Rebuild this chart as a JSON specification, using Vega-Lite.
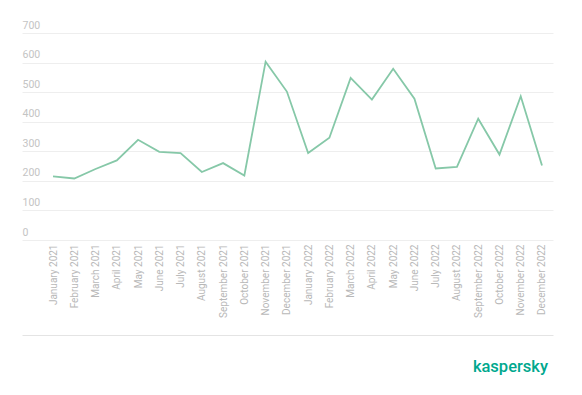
{
  "$schema": "https://vega.github.io/schema/vega-lite/v6.json",
  "width": 531,
  "height": 207,
  "autosize": {"type": "none"},
  "padding": {"left": 22, "top": 33, "right": 29, "bottom": 155},
  "background": "white",
  "config": {
    "view": {"stroke": null},
    "font": "Roboto",
    "title": {"font": "Roboto"}
  },
  "title": {
    "text": "kaspersky",
    "orient": "bottom",
    "anchor": "end",
    "color": "#00A88E",
    "fontSize": 16.5,
    "fontWeight": 500,
    "offset": 24,
    "dx": -5
  },
  "data": {
    "values": [
      {"month": "January 2021", "value": 215},
      {"month": "February 2021", "value": 208},
      {"month": "March 2021", "value": 240},
      {"month": "April 2021", "value": 269},
      {"month": "May 2021", "value": 339},
      {"month": "June 2021", "value": 298},
      {"month": "July 2021", "value": 294},
      {"month": "August 2021", "value": 230},
      {"month": "September 2021", "value": 260},
      {"month": "October 2021", "value": 218},
      {"month": "November 2021", "value": 603},
      {"month": "December 2021", "value": 502},
      {"month": "January 2022", "value": 294},
      {"month": "February 2022", "value": 346},
      {"month": "March 2022", "value": 548},
      {"month": "April 2022", "value": 475},
      {"month": "May 2022", "value": 579},
      {"month": "June 2022", "value": 478},
      {"month": "July 2022", "value": 242},
      {"month": "August 2022", "value": 247},
      {"month": "September 2022", "value": 410},
      {"month": "October 2022", "value": 289},
      {"month": "November 2022", "value": 486},
      {"month": "December 2022", "value": 252}
    ]
  },
  "mark": {"type": "line", "color": "#86C8A8", "strokeWidth": 1.8},
  "encoding": {
    "x": {
      "field": "month",
      "type": "ordinal",
      "sort": null,
      "scale": {"type": "point", "padding": 0.988, "align": 0.738},
      "axis": {
        "title": null,
        "labelAngle": -90,
        "labelAlign": "right",
        "labelBaseline": "middle",
        "labelColor": "#B8B8B8",
        "labelFontSize": 10,
        "labelPadding": -91,
        "offset": 95,
        "ticks": false,
        "tickSize": 0,
        "domain": true,
        "domainColor": "#E4E4E4",
        "domainWidth": 1,
        "grid": false
      }
    },
    "y": {
      "field": "value",
      "type": "quantitative",
      "scale": {"domain": [0, 700], "nice": false},
      "axis": {
        "title": null,
        "values": [0, 100, 200, 300, 400, 500, 600, 700],
        "labelOverlap": false,
        "labelAlign": "left",
        "labelBaseline": "bottom",
        "labelOffset": -3,
        "labelPadding": 0,
        "tickSize": 0,
        "ticks": false,
        "domain": false,
        "labelColor": "#C4C4C4",
        "labelFontSize": 10.5,
        "gridColor": "#EEEEEE",
        "gridWidth": 1
      }
    }
  }
}
